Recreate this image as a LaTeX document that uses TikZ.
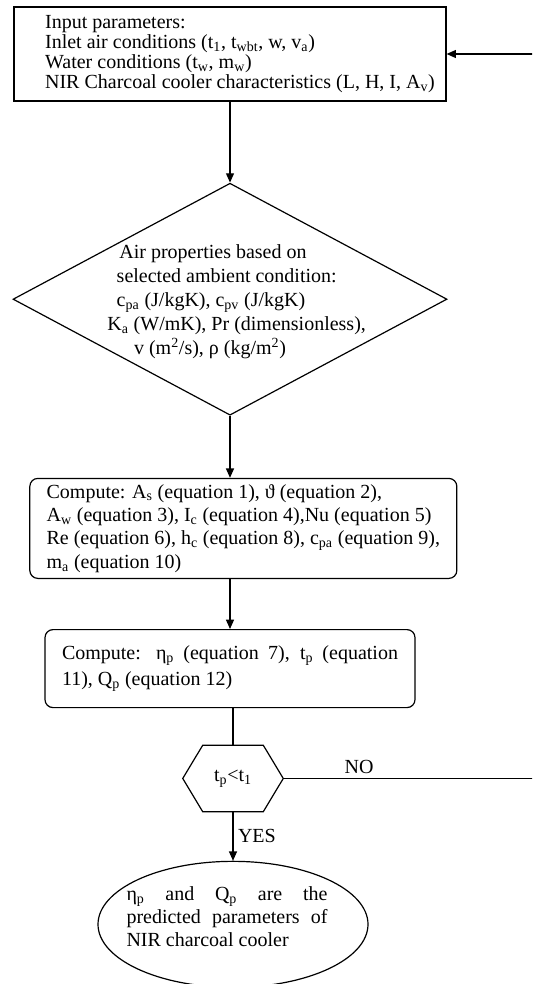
\documentclass[tikz,border=0pt]{standalone}
\usepackage{fontspec}
\setmainfont{Liberation Serif}
\usetikzlibrary{arrows.meta,positioning,shapes.geometric}

\begin{document}
\begin{tikzpicture}[
  x=0.75pt,y=-0.75pt,
  font=\fontsize{15}{17}\selectfont,
  line/.style={line width=0.9pt},
  box/.style={
    draw,
    line,
    align=left
  },
  decision/.style={
    draw,
    line,
    diamond,
    minimum width=325.5pt,
    minimum height=174pt,
    inner sep=0pt
  },
  terminal/.style={
    draw,
    line,
    ellipse,
    minimum width=202.5pt,
    minimum height=94.5pt,
    inner sep=0pt
  },
  arrow/.style={line,-{Triangle[length=7pt,width=6pt]}}
]
  \useasboundingbox (0,0) rectangle (532,984);
  \clip (0,0) rectangle (532,984);

  \node[box,minimum width=324pt,inner xsep=2.25pt,minimum height=70.5pt,
    font=\fontsize{15}{15}\selectfont] (input) at (230,54)
    {\hspace*{15pt}Input parameters:\\
     \hspace*{15pt}Inlet air conditions (t\textsubscript{1}, t\textsubscript{wbt}, w, v\textsubscript{a})\\
     \hspace*{15pt}Water conditions (t\textsubscript{w}, m\textsubscript{w})\\
     \hspace*{15pt}NIR Charcoal cooler characteristics (L, H, I, A\textsubscript{v})};

  \node[decision,below=60.75pt of input,
    label={[align=left,font=\fontsize{15}{18}\selectfont,xshift=5pt,yshift=-2pt]center:{%
      \hspace*{9pt}Air properties based on\\
      \hspace*{7pt}selected ambient condition:\\
      \hspace*{7pt}c\textsubscript{pa} (J/kgK), c\textsubscript{pv} (J/kgK)\\
      K\textsubscript{a} (W/mK), Pr (dimensionless),\\
      \hspace*{20pt}v (m\textsuperscript{2}/s), ρ (kg/m\textsuperscript{2})}}] (airprop) {};

  \node[box,rounded corners=6pt,minimum width=320.25pt,inner xsep=8pt,minimum height=75pt,
    font=\fontsize{15}{17.6}\selectfont,below=46.5pt of airprop,xshift=10pt] (compute1)
    {Compute: A\textsubscript{s} (equation 1), ϑ (equation 2),\\
     A\textsubscript{w} (equation 3), I\textsubscript{c} (equation 4),Nu (equation 5)\\
     Re (equation 6), h\textsubscript{c} (equation 8), c\textsubscript{pa} (equation 9),\\
     m\textsubscript{a} (equation 10)};

  \node[box,rounded corners=6pt,align=justify,text width=252pt,inner xsep=12.75pt,minimum height=58.5pt,
    font=\fontsize{15}{20}\selectfont,below=37.5pt of compute1,xshift=-10pt] (compute2)
    {Compute: η\textsubscript{p} (equation 7), t\textsubscript{p} (equation\linebreak
     11), Q\textsubscript{p} (equation 12)};

  % hexagon test
  \node[minimum width=75pt,minimum height=49.5pt,inner sep=0pt,
    below=27.75pt of compute2,xshift=2.25pt] (check)
    {t\textsubscript{p}<t\textsubscript{1}};
  \draw[line] (check.west) -- ([xshift=15pt]check.north west) -- ([xshift=-15pt]check.north east)
    -- (check.east) -- ([xshift=-15pt]check.south east) -- ([xshift=15pt]check.south west) -- cycle;

  \node[terminal,below=36.75pt of check,
    label={[align=justify,text width=150.75pt,font=\fontsize{15}{17.25}\selectfont,
      xshift=-4.5pt,yshift=6pt]center:{%
      η\textsubscript{p} and Q\textsubscript{p} are the\linebreak
      predicted parameters of\linebreak
      NIR charcoal cooler}}] (result) {};

  \coordinate (loop) at (545,0);

  \draw[arrow] (input) -- (airprop);
  \draw[arrow] (airprop) -- (airprop |- compute1.north);
  \draw[arrow] (airprop |- compute1.south) -- (compute2);
  \draw[line] (compute2.south -| check.north) -- (check.north);
  \draw[arrow] (check.south) -- node[right]{YES} (result);
  \draw[arrow] (check.east) -- node[above,pos=.29]{NO} (check.east -| loop) |- (input.east);
\end{tikzpicture}
\end{document}
